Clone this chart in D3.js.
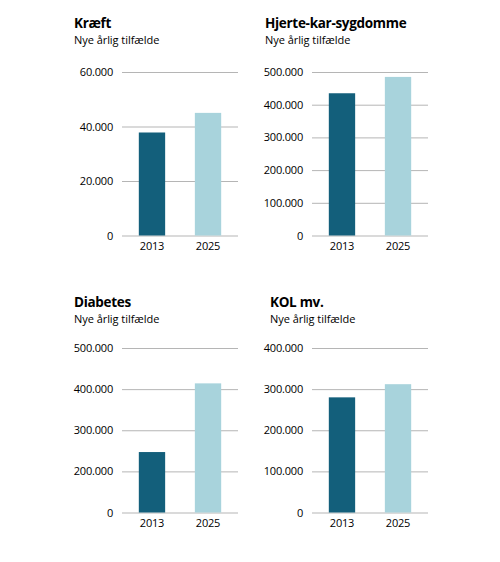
<!DOCTYPE html>
<html>
<head>
<meta charset="utf-8">
<script src="https://cdn.jsdelivr.net/npm/d3@7"></script>
<style>
    body { margin: 0; background: #fff; }
    text { font-family: "Open Sans", sans-serif; fill: #000; }
</style>
</head>
<body>
<div id="chart"></div>
<script>
// data
let years = ["2013", "2025"];
let subtitle = "Nye årlig tilfælde";

let kraeftValues = [37800, 45000];
let hjerteValues = [435000, 485000];
let diabetesValues = [247000, 414000];
let kolValues = [280000, 312000];

let kraeftTicks = [0, 20000, 40000, 60000];
let hjerteTicks = [0, 100000, 200000, 300000, 400000, 500000];
let diabetesTicks = [0, 200000, 300000, 400000, 500000]; // broken axis in the original
let kolTicks = [0, 100000, 200000, 300000, 400000];

let barColors = ["#135f7b", "#a8d3dc"];

let panels = [
    {title: "Kræft", values: kraeftValues, ticks: kraeftTicks, col: 0, row: 0, titleX: 74},
    {title: "Hjerte-kar-sygdomme", values: hjerteValues, ticks: hjerteTicks, col: 1, row: 0, titleX: 265},
    {title: "Diabetes", values: diabetesValues, ticks: diabetesTicks, col: 0, row: 1, titleX: 74},
    {title: "KOL mv.", values: kolValues, ticks: kolTicks, col: 1, row: 1, titleX: 270}
];

let svg = d3.select("#chart").append("svg")
    .attr("width", 500)
    .attr("height", 562);

let colX = [122, 312];      // left end of gridlines
let rowTop = [72, 348];     // top gridline
let rowBottom = [235.5, 512.5]; // zero line
let plotWidth = 116;

// danish thousands separator
let fmt = function(d) {
    return d3.format(",")(d).replace(/,/g, ".");
};

panels.forEach(function(p) {
    let x0 = colX[p.col];
    let top = rowTop[p.row];
    let bottom = rowBottom[p.row];
    let step = (bottom - top) / (p.ticks.length - 1);

    // each tick gets an equal slot, so the diabetes break works out by itself
    let yScale = d3.scaleLinear()
        .domain(p.ticks)
        .range(p.ticks.map(function(t, i) { return bottom - i * step; }));

    let xScale = d3.scaleBand()
        .domain(years)
        .range([x0, x0 + plotWidth])
        .paddingInner(0.53)
        .paddingOuter(0.3);

    let g = svg.append("g");

    // title + subtitle
    let titleY = p.row === 0 ? 27.5 : 306.5;
    g.append("text")
        .attr("x", p.titleX)
        .attr("y", titleY)
        .attr("font-size", 13.5)
        .attr("font-weight", "bold")
        .attr("letter-spacing", -0.3)
        .text(p.title);
    g.append("text")
        .attr("x", p.titleX)
        .attr("y", titleY + 16)
        .attr("font-size", 11)
        .attr("letter-spacing", -0.05)
        .text(subtitle);

    // y axis: gridlines + labels
    let yAxis = g.append("g")
        .attr("transform", "translate(" + x0 + ",0)")
        .call(d3.axisLeft(yScale)
            .tickValues(p.ticks)
            .tickSize(-plotWidth)
            .tickPadding(9)
            .tickFormat(fmt));
    yAxis.select(".domain").remove();
    yAxis.selectAll(".tick line")
        .attr("stroke", "#b5b5b5")
        .attr("stroke-width", 1);
    yAxis.selectAll(".tick text")
        .attr("font-size", 11)
        .attr("font-family", "Open Sans, sans-serif")
        .attr("letter-spacing", -0.2)
        .attr("fill", "#000");

    // bars
    g.selectAll(".bar")
        .data(p.values)
        .enter()
        .append("rect")
        .attr("class", "bar")
        .attr("x", function(d, i) { return xScale(years[i]); })
        .attr("y", function(d) { return yScale(d); })
        .attr("width", xScale.bandwidth())
        .attr("height", function(d) { return bottom - yScale(d); })
        .attr("fill", function(d, i) { return barColors[i]; });

    // x axis labels
    let xAxis = g.append("g")
        .attr("transform", "translate(0," + bottom + ")")
        .call(d3.axisBottom(xScale).tickSize(0).tickPadding(7));
    xAxis.select(".domain").remove();
    xAxis.selectAll(".tick text")
        .attr("font-size", 11)
        .attr("font-family", "Open Sans, sans-serif")
        .attr("letter-spacing", -0.2)
        .attr("fill", "#000");
});
</script>
</body>
</html>
